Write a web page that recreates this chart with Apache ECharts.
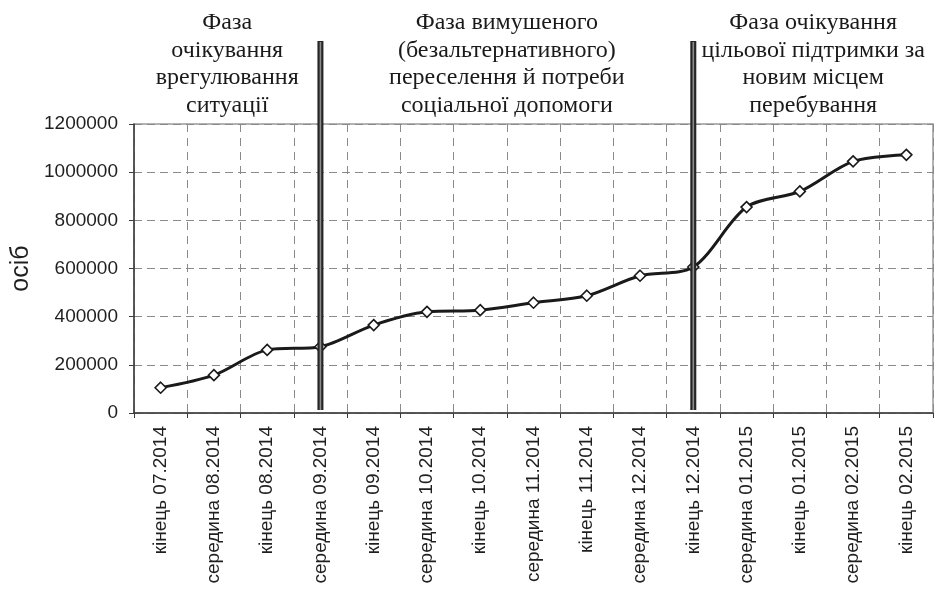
<!DOCTYPE html>
<html>
<head>
    <meta charset="utf-8"/>
    <title>Фази переселення</title>
    <style>
        html, body {margin: 0; padding: 0; background: #fff;}
        #main {width: 941px; height: 589px;}
    </style>
</head>
<body>
<div id="main"></div>
<script src="https://cdn.jsdelivr.net/npm/echarts@6/dist/echarts.min.js"></script>
<script>
    // дані
    var categories = ['кінець 07.2014', 'середина 08.2014', 'кінець 08.2014', 'середина 09.2014',
        'кінець 09.2014', 'середина 10.2014', 'кінець 10.2014', 'середина 11.2014', 'кінець 11.2014',
        'середина 12.2014', 'кінець 12.2014', 'середина 01.2015', 'кінець 01.2015',
        'середина 02.2015', 'кінець 02.2015'];
    var persons = [105000, 157000, 262000, 275000, 365000, 420000, 427000, 458000, 487000,
        570000, 606000, 855000, 920000, 1045000, 1072000];
    var phaseBreaks = [3, 10];
    var phaseTitles = [
        'Фаза\nочікування\nврегулювання\nситуації',
        'Фаза вимушеного\n(безальтернативного)\nпереселення й потреби\nсоціальної допомоги',
        'Фаза очікування\nцільової підтримки за\nновим місцем\nперебування'
    ];
    var yMin = 0, yMax = 1200000, yStep = 200000;

    var sans = '"Liberation Sans", Arial, sans-serif';
    var serif = '"Liberation Serif", "Times New Roman", serif';

    var chart = echarts.init(document.getElementById('main'));
    var option = {
        animation: false,
        grid: {
            left: 134, right: 8, top: 124, bottom: 176,
            containLabel: false, outerBoundsMode: 'none',
            show: true, borderColor: '#9a9a9a', borderWidth: 1.5
        },
        xAxis: {
            type: 'category',
            data: categories,
            boundaryGap: true,
            axisLine: {lineStyle: {color: '#3a3a3a', width: 1.5}},
            axisTick: {show: true, length: 5, interval: 0, lineStyle: {color: '#3a3a3a'}},
            axisLabel: {
                interval: 0, rotate: 90, margin: 13,
                fontFamily: sans, fontSize: 19, color: '#1f1f1f'
            },
            splitLine: {
                show: true, interval: 0,
                lineStyle: {color: '#8a8a8a', type: [8, 6], width: 1}
            }
        },
        yAxis: {
            type: 'value',
            min: yMin, max: yMax, interval: yStep,
            name: 'осіб',
            nameLocation: 'middle',
            nameGap: 100,
            nameTextStyle: {fontFamily: sans, fontSize: 25, color: '#1f1f1f'},
            axisLine: {show: true, lineStyle: {color: '#3a3a3a', width: 1.5}},
            axisTick: {show: true, length: 5, lineStyle: {color: '#3a3a3a'}},
            axisLabel: {
                margin: 16, fontFamily: sans, fontSize: 19, color: '#1f1f1f',
                formatter: function (v) { return String(v); }
            },
            splitLine: {lineStyle: {color: '#8a8a8a', type: [8, 5], width: 1}}
        },
        series: [{
            name: 'осіб',
            type: 'line',
            data: persons,
            smooth: 0.3,
            symbol: 'diamond',
            symbolSize: 11,
            lineStyle: {color: '#1a1a1a', width: 3},
            itemStyle: {color: '#ffffff', borderColor: '#1a1a1a', borderWidth: 1.6},
            z: 3
        }]
    };
    chart.setOption(option);

    // межі фаз і підписи
    var px = function (i) { return chart.convertToPixel({xAxisIndex: 0}, i); };
    var band = px(1) - px(0);
    var left = px(0) - band / 2;
    var right = px(categories.length - 1) + band / 2;
    var bottom = chart.convertToPixel({yAxisIndex: 0}, yMin);
    var edges = [left].concat(phaseBreaks.map(px)).concat([right]);

    var graphics = [];
    phaseBreaks.forEach(function (b) {
        var x = px(b);
        graphics.push({
            type: 'line', z: 10,
            shape: {x1: x, y1: 41, x2: x, y2: bottom - 3},
            style: {stroke: '#262626', lineWidth: 6}
        });
        graphics.push({
            type: 'line', z: 11,
            shape: {x1: x, y1: 42, x2: x, y2: bottom - 3},
            style: {stroke: '#8c8c8c', lineWidth: 1.6}
        });
    });
    phaseTitles.forEach(function (t, i) {
        graphics.push({
            type: 'text', z: 10,
            x: (edges[i] + edges[i + 1]) / 2,
            y: 9,
            style: {
                text: t, fontFamily: serif, fontSize: 24, lineHeight: 27.5,
                align: 'center', verticalAlign: 'top', fill: '#1a1a1a'
            }
        });
    });
    chart.setOption({graphic: graphics});

    window.onresize = function () {
        chart.resize();
    };
</script>
</body>
</html>
